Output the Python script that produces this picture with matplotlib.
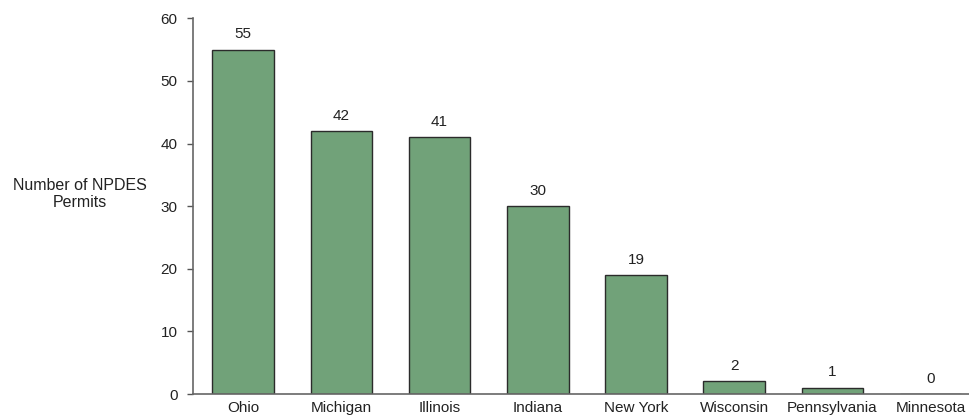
import matplotlib
matplotlib.use("Agg")
import matplotlib.pyplot as plt

states = ["Ohio", "Michigan", "Illinois", "Indiana", "New York",
          "Wisconsin", "Pennsylvania", "Minnesota"]
permits = [55, 42, 41, 30, 19, 2, 1, 0]
y_ticks = [0, 10, 20, 30, 40, 50, 60]

plt.rcParams["font.family"] = ["Liberation Sans", "DejaVu Sans"]

fig = plt.figure(figsize=(9.69, 4.18), dpi=100)
ax = fig.add_axes([0.1992, 0.0574, 0.8008, 0.8986])

x = list(range(len(states)))
bars = ax.bar(x, permits, width=0.626, color="#71a279",
              edgecolor="#2b2b2b", linewidth=1.0, zorder=2)

for xi, v in zip(x, permits):
    ax.annotate(str(v), (xi, v), xytext=(0, 6), textcoords="offset points",
                ha="center", va="bottom", fontsize=11, color="#222222")

ax.set_xlim(-0.51, 7.39)
ax.set_ylim(0, 60)
ax.set_yticks(y_ticks)
ax.set_xticks(x)
ax.set_xticklabels(states)

ax.tick_params(axis="y", direction="out", length=4, width=1, color="#555555",
               labelsize=11, labelcolor="#222222", pad=7)
ax.tick_params(axis="x", length=0, labelsize=11, labelcolor="#222222", pad=5)

for side in ("top", "right"):
    ax.spines[side].set_visible(False)
for side in ("left", "bottom"):
    ax.spines[side].set_color("#666666")
    ax.spines[side].set_linewidth(1.2)

fig.text(0.082, 0.535, "Number of NPDES\nPermits", ha="center", va="center",
         fontsize=11.5, color="#222222", linespacing=1.15)

fig.savefig("out.png", dpi=100)
